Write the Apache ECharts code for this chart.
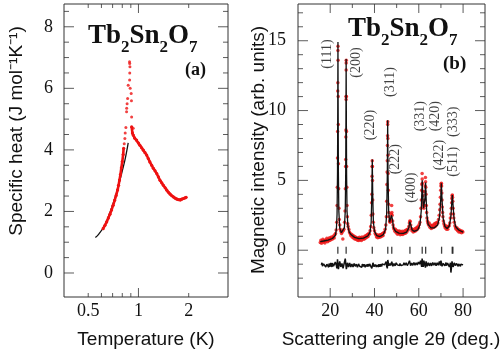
<!DOCTYPE html>
<html>
<head>
<meta charset="utf-8">
<script src="https://cdn.jsdelivr.net/npm/echarts@6/dist/echarts.min.js"></script>
<style>
  html, body { margin: 0; padding: 0; background: #fff; }
  #chart { width: 503px; height: 357px; }
</style>
</head>
<body>
<div id="chart"></div>
<script>
// ---- panel (a): specific heat ----
var fitT = [0.552, 0.58, 0.628, 0.66, 0.705, 0.74, 0.774, 0.80, 0.829, 0.85, 0.868];
var fitC = [1.15, 1.27, 1.55, 1.82, 2.26, 2.62, 3.01, 3.32, 3.66, 3.95, 4.23];

var riseT = [0.614, 0.63, 0.645, 0.66, 0.675, 0.69, 0.705, 0.72, 0.735, 0.75, 0.76, 0.77, 0.78, 0.79, 0.80, 0.81, 0.815];
var riseC = [1.44, 1.55, 1.66, 1.79, 1.91, 2.05, 2.2, 2.36, 2.52, 2.7, 2.85, 3.02, 3.2, 3.42, 3.62, 3.85, 4.05];

var peakT = [0.822, 0.829, 0.833, 0.841, 0.849, 0.85, 0.855, 0.861, 0.868, 0.885, 0.887, 0.889, 0.886, 0.884, 0.892, 0.905, 0.908, 0.91, 0.93];
var peakC = [4.2, 4.37, 4.55, 4.73, 5.24, 5.35, 5.5, 5.67, 6.1, 6.27, 6.5, 6.7, 6.81, 6.86, 6.0, 5.83, 5.6, 5.07, 4.7];

var fallT = [0.91, 0.92, 0.93, 0.95, 0.975, 1.0, 1.02, 1.045, 1.07, 1.095, 1.12, 1.145, 1.17, 1.2, 1.228, 1.257, 1.287, 1.317, 1.347, 1.378, 1.41, 1.445, 1.479, 1.513, 1.548, 1.585, 1.62, 1.66, 1.7, 1.74, 1.78, 1.82, 1.86, 1.9, 1.93];
var fallC = [4.75, 4.55, 4.48, 4.38, 4.32, 4.22, 4.15, 4.07, 3.99, 3.91, 3.83, 3.72, 3.61, 3.5, 3.4, 3.32, 3.23, 3.12, 3.01, 2.93, 2.85, 2.77, 2.69, 2.62, 2.56, 2.51, 2.47, 2.43, 2.4, 2.38, 2.37, 2.4, 2.42, 2.44, 2.46];

var tempLabels = [0.5, 1, 2];
var tempMajor = [1];
var tempMinor = [0.5, 0.6, 0.7, 0.8, 0.9, 2];
var heatLabels = [0, 2, 4, 6, 8];
var heatMinor = [0.5, 1, 1.5, 2.5, 3, 3.5, 4.5, 5, 5.5, 6.5, 7, 7.5, 8.5];

// ---- panel (b): neutron diffraction ----
var calcPoints = [
  [15.5,0.62],[17,0.66],[19,0.72],[21,0.84],[22.3,1.05],[22.8,1.5],[23.1,2.6],[23.3,5.5],[23.42,10.5],[23.5,14.9],[23.58,10.5],[23.7,5.5],[23.9,2.8],[24.3,1.6],[25,1.25],
  [25.8,1.2],[26.4,1.6],[26.8,2.8],[27.0,5.5],[27.12,10],[27.2,13.7],[27.28,10],[27.4,5.5],[27.6,2.8],[28,1.7],[28.6,1.3],[29.5,1.1],[31,0.92],[33,0.83],[35,0.86],
  [37,1.02],[38,1.3],[38.5,2.0],[38.8,4.0],[39.0,6.5],[39.2,4.0],[39.5,2.0],[40,1.35],[41,1.05],[42.5,0.98],[44,1.12],[45,1.5],[45.5,2.6],[45.8,5.5],[45.95,9.3],
  [46.1,5.5],[46.4,2.8],[46.8,2.0],[47.4,2.0],[47.7,2.5],[47.85,2.6],[48.1,2.2],[48.6,1.6],[49.5,1.35],[51,1.22],[53,1.2],[54.5,1.3],[55.5,1.6],[55.9,2.05],[56.1,2.1],
  [56.4,1.8],[57,1.45],[58,1.35],[59.5,1.45],[60.5,1.8],[61.1,2.8],[61.4,4.2],[61.55,5.0],[61.75,4.2],[62.1,3.0],[62.5,2.9],[62.8,3.7],[63.05,4.85],[63.25,4.0],[63.6,2.6],
  [64.2,1.85],[65.5,1.6],[67,1.6],[68.5,1.8],[69.4,2.4],[69.9,3.6],[70.2,4.8],[70.5,3.6],[71,2.3],[71.8,1.7],[72.8,1.55],[73.8,1.75],[74.5,2.4],[74.9,3.4],[75.15,3.95],
  [75.4,3.4],[75.9,2.3],[76.6,1.7],[78,1.45],[80,1.3]
];

var obsPoints = [
  [15.5,0.55],[15.8,0.72],[16.1,0.5],[16.4,0.63],[16.7,0.78],[17.0,0.58],[17.3,0.7],[17.6,0.52],[17.9,0.74],[18.2,0.66],[18.5,0.85],[18.8,0.6],[19.1,0.77],[19.4,0.68],
  [19.7,0.9],[20.0,0.72],[20.3,0.83],[20.6,0.95],[20.9,0.78],[21.2,0.9],[21.5,1.02],[21.8,0.88],[22.1,1.1],[22.4,1.2],[22.7,1.45],
  [22.95,2.0],[23.1,3.2],[23.2,4.5],[23.3,6.6],[23.35,8.5],[23.4,11.4],[23.45,12.0],[23.48,14.3],[23.52,14.6],[23.55,13.6],[23.6,11.0],[23.65,9.0],[23.72,6.2],[23.8,4.4],
  [23.95,3.0],[24.1,2.2],[24.3,1.8],[24.5,1.5],[24.8,1.35],[25.1,1.2],[25.4,1.3],[25.7,0.8],[25.9,1.4],[26.2,1.5],[26.5,2.0],
  [26.7,2.8],[26.85,4.4],[26.95,6.0],[27.0,6.5],[27.05,8.1],[27.1,8.6],[27.15,11.0],[27.18,10.8],[27.2,12.9],[27.22,13.4],[27.25,13.6],[27.3,11.0],[27.35,8.5],[27.4,6.0],
  [27.5,4.5],[27.6,3.2],[27.75,2.4],[27.9,1.9],[28.1,1.7],[28.4,1.5],[28.7,1.3],[29.0,1.2],[29.3,1.05],[29.6,1.15],[29.9,0.95],[30.2,1.08],[30.5,0.88],[30.8,1.0],
  [31.1,0.8],[31.4,0.95],[31.7,0.78],[32.0,0.9],[32.3,0.72],[32.6,0.86],[32.9,0.7],[33.2,0.92],[33.5,0.75],[33.8,0.88],[34.1,0.7],[34.4,0.95],[34.7,0.8],[35.0,0.9],
  [35.3,0.78],[35.6,1.0],[35.9,0.85],[36.2,1.05],[36.5,0.92],[36.8,1.12],[37.1,0.98],[37.4,1.2],[37.7,1.15],[38.0,1.4],[38.3,1.7],
  [38.55,2.5],[38.7,3.4],[38.8,4.0],[38.9,5.3],[38.95,6.0],[39.0,6.4],[39.05,6.0],[39.1,5.0],[39.2,3.6],[39.3,2.6],[39.45,2.0],
  [39.7,1.6],[40.0,1.4],[40.3,1.2],[40.6,1.1],[40.9,0.95],[41.2,1.1],[41.5,0.9],[41.8,1.05],[42.1,0.92],[42.4,1.1],[42.7,0.95],[43.0,1.12],[43.3,1.0],[43.6,1.2],
  [43.9,1.05],[44.2,1.25],[44.5,1.3],[44.8,1.5],[45.1,1.8],[45.35,2.4],
  [45.5,3.5],[45.6,4.7],[45.7,5.6],[45.78,6.4],[45.85,7.5],[45.9,8.2],[45.93,9.0],[45.97,9.2],[46.02,8.0],[46.08,6.8],[46.15,5.5],[46.25,4.3],[46.35,3.3],[46.5,2.7],
  [46.65,2.4],[46.8,2.1],[47.0,2.0],[47.2,2.2],[47.4,2.1],[47.6,2.6],[47.75,3.2],[47.85,2.7],[48.0,2.5],[48.2,2.1],[48.4,1.8],[48.6,1.6],
  [48.9,1.5],[49.2,1.35],[49.5,1.5],[49.8,1.25],[50.1,1.4],[50.4,1.15],[50.7,1.35],[51.0,1.2],[51.3,1.38],[51.6,1.1],[51.9,1.3],[52.2,1.15],[52.5,1.35],[52.8,1.12],
  [53.1,1.3],[53.4,1.2],[53.7,1.4],[54.0,1.22],[54.3,1.45],[54.6,1.3],[54.9,1.5],[55.2,1.45],[55.5,1.7],[55.75,1.95],[55.95,2.1],[56.15,2.05],[56.35,1.8],[56.6,1.55],
  [56.9,1.4],[57.2,1.5],[57.5,1.3],[57.8,1.45],[58.1,1.35],[58.4,1.55],[58.7,1.4],[59.0,1.6],[59.3,1.5],[59.6,1.7],[59.9,1.6],[60.2,1.85],[60.5,2.0],[60.8,2.4],[61.0,3.0],
  [61.15,3.6],[61.3,4.3],[61.4,4.7],[61.5,5.5],[61.55,5.1],[61.6,4.8],[61.7,4.2],[61.8,3.9],[61.95,3.4],[62.1,3.2],[62.3,3.0],[62.5,3.2],[62.65,3.6],
  [62.8,4.2],[62.9,4.6],[63.0,5.2],[63.08,4.9],[63.15,4.5],[63.25,4.0],[63.4,3.2],[63.55,2.7],[63.7,2.3],[63.9,2.1],
  [64.1,1.95],[64.4,1.8],[64.7,1.95],[65.0,1.65],[65.3,1.8],[65.6,1.55],[65.9,1.75],[66.2,1.6],[66.5,1.8],[66.8,1.65],[67.1,1.9],[67.4,1.7],[67.7,1.95],[68.0,1.8],
  [68.3,2.0],[68.6,1.95],[68.9,2.2],[69.2,2.5],[69.45,2.9],
  [69.6,3.3],[69.75,3.8],[69.9,4.3],[70.0,4.6],[70.1,4.75],[70.2,4.8],[70.3,4.6],[70.4,4.1],[70.5,3.6],[70.6,3.1],[70.75,2.7],[70.9,2.4],
  [71.1,2.1],[71.35,1.9],[71.6,1.75],[71.9,1.6],[72.2,1.75],[72.5,1.5],[72.8,1.65],[73.1,1.5],[73.4,1.7],[73.7,1.75],[74.0,1.95],[74.25,2.3],[74.5,2.6],
  [74.7,3.0],[74.85,3.4],[74.95,3.7],[75.05,3.9],[75.15,3.95],[75.25,3.8],[75.35,3.5],[75.5,3.0],[75.65,2.6],[75.8,2.3],
  [76.0,2.0],[76.3,1.75],[76.6,1.6],[76.9,1.5],[77.2,1.6],[77.5,1.4],[77.8,1.5],[78.1,1.3],[78.4,1.45],[78.7,1.3],[79.0,1.4],[79.3,1.25],[79.6,1.35],[79.9,1.3]
];

var diffPoints = [
  [16,-1.05],[16.3,-0.9],[16.5,-1.15],[16.8,-1.25],[17,-0.98],[17.3,-0.85],[17.5,-1.1],[17.8,-1.0],[18,-1.2],[18.3,-1.28],[18.5,-1.0],[18.8,-0.88],[19,-1.12],[19.3,-1.22],
  [19.5,-0.95],[19.8,-1.05],[20,-1.18],[20.3,-0.9],[20.5,-1.05],[20.8,-1.2],[21,-0.92],[21.3,-1.0],[21.5,-1.15],[21.8,-1.25],[22,-1.02],[22.3,-0.85],[22.5,-0.9],
  [22.8,-1.1],[23,-1.3],[23.3,-0.65],[23.5,-0.75],[23.7,-1.35],[24,-1.3],[24.3,-0.8],[24.5,-0.95],[24.8,-1.2],[25,-1.1],[25.3,-0.95],[25.5,-0.85],[25.8,-1.3],[26,-1.2],
  [26.3,-0.95],[26.5,-0.9],[26.8,-0.6],[27,-0.7],[27.3,-1.35],[27.5,-1.25],[27.8,-0.9],[28,-0.95],[28.3,-1.2],[28.5,-1.1],[28.8,-0.92],[29,-1.0],[29.3,-1.2],[29.5,-1.15],
  [29.8,-0.98],[30,-1.05],[30.3,-1.2],[30.5,-1.12],[30.8,-0.95],[31,-1.0],[31.3,-1.15],[31.5,-1.18],[31.8,-1.0],[32,-1.08],[32.3,-1.22],[32.5,-1.15],[32.8,-0.98],[33,-1.02],
  [33.3,-1.15],[33.5,-1.2],[33.8,-1.05],[34,-1.1],[34.3,-1.22],[34.5,-1.0],[34.8,-1.08],[35,-1.15],[35.3,-1.0],[35.5,-1.05],[35.8,-1.22],[36,-1.2],[36.3,-1.02],[36.5,-1.08],
  [36.8,-1.18],[37,-1.0],[37.3,-1.1],[37.5,-1.15],[37.8,-0.98],[38,-1.05],[38.3,-0.85],[38.5,-0.92],[38.8,-1.3],[39,-1.2],[39.3,-0.9],[39.5,-1.0],[39.8,-1.18],[40,-1.1],
  [40.3,-1.02],[40.5,-1.15],[40.8,-1.2],[41,-1.05],[41.3,-0.98],[41.5,-1.12],[41.8,-1.2],[42,-1.0],[42.3,-1.08],[42.5,-1.18],[42.8,-1.0],[43,-1.08],[43.3,-1.15],[43.5,-0.98],
  [43.8,-1.05],[44,-1.12],[44.3,-0.95],[44.5,-1.05],[44.8,-1.15],[45,-0.95],[45.3,-0.82],[45.5,-1.15],[45.8,-1.3],[46,-0.7],[46.3,-0.8],[46.5,-1.1],[46.8,-1.0],[47,-0.95],
  [47.3,-1.1],[47.5,-1.05],[47.8,-0.82],[48,-0.9],[48.3,-1.15],[48.5,-1.1],[48.8,-0.95],[49,-0.98],[49.3,-1.12],[49.5,-1.05],[49.8,-0.9],[50,-0.92],[50.3,-1.05],[50.5,-1.08],
  [50.8,-0.95],[51,-1.0],[51.3,-1.1],[51.5,-0.95],[51.8,-0.88],[52,-1.1],[52.3,-1.0],[52.5,-0.98],[52.8,-1.12],[53,-1.05],[53.3,-0.9],[53.5,-0.92],[53.8,-1.08],[54,-1.02],
  [54.3,-0.9],[54.5,-0.95],[54.8,-1.1],[55,-1.08],[55.3,-0.95],[55.5,-0.9],[55.8,-0.75],[56,-0.85],[56.3,-1.1],[56.5,-1.05],[56.8,-0.92],[57,-0.95],[57.3,-1.08],[57.5,-1.0],
  [57.8,-0.88],[58,-0.9],[58.3,-1.08],[58.5,-1.05],[58.8,-0.9],[59,-0.95],[59.3,-1.05],[59.5,-1.0],[59.8,-0.85],[60,-0.88],[60.3,-1.0],[60.5,-1.05],[60.8,-0.75],[61,-0.8],
  [61.3,-1.2],[61.5,-0.6],[61.8,-0.9],[62,-1.2],[62.3,-0.75],[62.5,-0.85],[62.8,-1.1],[63,-1.25],[63.3,-0.8],[63.5,-0.9],[63.8,-1.15],[64,-1.05],[64.3,-0.9],[64.5,-0.95],
  [64.8,-1.12],[65,-1.08],[65.3,-0.92],[65.5,-0.98],[65.8,-1.12],[66,-1.05],[66.3,-0.88],[66.5,-0.92],[66.8,-1.08],[67,-1.02],[67.3,-0.9],[67.5,-0.95],[67.8,-1.12],[68,-1.1],
  [68.3,-0.9],[68.5,-0.95],[68.8,-1.08],[69,-1.0],[69.3,-0.8],[69.5,-0.85],[69.8,-1.1],[70,-0.75],[70.3,-0.95],[70.5,-1.15],[70.8,-1.05],[71,-0.95],[71.3,-0.85],[71.5,-1.05],
  [71.8,-1.12],[72,-0.98],[72.3,-0.88],[72.5,-1.1],[72.8,-1.15],[73,-0.92],[73.3,-0.85],[73.5,-1.05],[73.8,-1.2],[74,-1.15],[74.3,-0.9],[74.5,-1.6],[74.8,-1.2],[75,-0.8],
  [75.3,-0.9],[75.5,-1.2],[75.8,-1.05],[76,-0.9],[76.3,-0.85],[76.5,-1.1],[76.8,-1.2],[77,-0.95],[77.3,-0.9],[77.5,-1.05],[77.8,-1.15],[78,-0.98],[78.3,-0.92],[78.5,-1.08],
  [78.8,-1.15],[79,-1.0],[79.3,-0.95],[79.5,-1.1],[79.8,-1.12],[80,-1.05]
];

var braggAngles = [23.45, 27.2, 39.0, 46.0, 47.8, 56.0, 61.55, 63.1, 70.3, 75.1, 75.4];

// hkl annotation: text, angle, intensity of label centre
var hklLabels = [
  ['(111)', 18.5, 14.05], ['(200)', 32.0, 13.44], ['(220)', 38.2, 8.96], ['(311)', 47.0, 12.04],
  ['(222)', 49.6, 6.52], ['(400)', 56.8, 4.48], ['(331)', 60.5, 9.6], ['(420)', 67.25, 9.6],
  ['(333)', 75.6, 9.2], ['(422)', 69.5, 6.81], ['(511)', 75.6, 6.33]
];

var angleLabels = [20, 40, 60, 80];
var angleMinor = [30, 50, 70];
var intLabels = [0, 5, 10, 15];
var intMinor = [-2, -1, 1, 2, 3, 4, 6, 7, 8, 9, 11, 12, 13, 14, 16, 17];

var frame = '#333';
var red = '#ee1111';
var serif = '"Liberation Serif", "Times New Roman", serif';
var sans = '"Liberation Sans", Arial, sans-serif';

function lg(arr) { return arr.map(function (v) { return Math.log10(v); }); }
function pairs(xs, ys) { return xs.map(function (x, i) { return [Math.log10(x), ys[i]]; }); }

var aX = [Math.log10(0.358), Math.log10(3.44)], aY = [-0.78, 8.74];
var bX = [5.46, 89.9], bY = [-3.35, 17.63];

function mainAxis(grid, pos, range, labels, fmt, margin) {
  return {
    type: 'value', gridIndex: grid, position: pos, min: range[0], max: range[1],
    axisLine: { show: false, onZero: false },
    axisTick: { show: false },
    splitLine: { show: false },
    axisLabel: { show: true, customValues: labels, formatter: fmt, margin: margin,
      fontFamily: serif, fontSize: 18, color: '#111' }
  };
}

// inward frame ticks as thin rect symbols sitting on one edge of the plot
function tickSeries(axisIdx, side, values, len, xr, yr) {
  var horiz = side === 'bottom' || side === 'top';
  var data = values.map(function (v) {
    if (horiz) return [v, side === 'bottom' ? yr[0] : yr[1]];
    return [side === 'left' ? xr[0] : xr[1], v];
  });
  var offset = side === 'bottom' ? [0, -len / 2] : side === 'top' ? [0, len / 2]
    : side === 'left' ? [len / 2, 0] : [-len / 2, 0];
  return {
    type: 'scatter', xAxisIndex: axisIdx, yAxisIndex: axisIdx, clip: false, silent: true, z: 5,
    symbol: 'rect', symbolSize: horiz ? [1, len] : [len, 1], symbolOffset: offset,
    data: data, itemStyle: { color: frame }
  };
}

function frameTicks(axisIdx, xMajor, xMinor, yMajor, yMinor, xr, yr) {
  var out = [];
  ['bottom', 'top'].forEach(function (s) {
    out.push(tickSeries(axisIdx, s, xMajor, 9, xr, yr));
    out.push(tickSeries(axisIdx, s, xMinor, 4, xr, yr));
  });
  ['left', 'right'].forEach(function (s) {
    out.push(tickSeries(axisIdx, s, yMajor, 10, xr, yr));
    out.push(tickSeries(axisIdx, s, yMinor, 5, xr, yr));
  });
  return out;
}

var chart = echarts.init(document.getElementById('chart'));

var rich = {
  m: { fontFamily: serif, fontWeight: 'bold', fontSize: 27, lineHeight: 40, verticalAlign: 'middle', color: '#111' },
  s: { fontFamily: serif, fontWeight: 'bold', fontSize: 17, lineHeight: 17, verticalAlign: 'bottom', color: '#111' }
};
var formula = '{m|Tb}{s|2}{m|Sn}{s|2}{m|O}{s|7}';

var dataSeries = [
  // panel (a)
  { type: 'line', xAxisIndex: 0, yAxisIndex: 0, data: pairs(fitT, fitC), smooth: true, showSymbol: false,
    lineStyle: { color: '#111', width: 1.3 } },
  { type: 'line', xAxisIndex: 0, yAxisIndex: 0, data: pairs(riseT, riseC), showSymbol: true, symbol: 'circle', symbolSize: 3.2,
    itemStyle: { color: red }, lineStyle: { color: red, width: 2.6 } },
  { type: 'line', xAxisIndex: 0, yAxisIndex: 0, data: pairs(fallT, fallC), showSymbol: true, symbol: 'circle', symbolSize: 3.2,
    itemStyle: { color: red }, lineStyle: { color: red, width: 2.6 } },
  { type: 'scatter', xAxisIndex: 0, yAxisIndex: 0, data: pairs(peakT, peakC), symbolSize: 3,
    itemStyle: { color: red } },
  // panel (b)
  { type: 'line', xAxisIndex: 1, yAxisIndex: 1, data: calcPoints, showSymbol: false,
    lineStyle: { color: '#111', width: 1.3 } },
  { type: 'scatter', xAxisIndex: 1, yAxisIndex: 1, data: obsPoints, symbolSize: 3.5,
    itemStyle: { color: red } },
  { type: 'line', xAxisIndex: 1, yAxisIndex: 1, data: diffPoints, showSymbol: false,
    lineStyle: { color: '#111', width: 1.5 } },
  { type: 'scatter', xAxisIndex: 1, yAxisIndex: 1, symbol: 'rect', symbolSize: [1.3, 7],
    data: braggAngles.map(function (a) { return [a, 0]; }), itemStyle: { color: '#111' } },
  { type: 'scatter', xAxisIndex: 1, yAxisIndex: 1, symbolSize: 0,
    data: hklLabels.map(function (h) { return { name: h[0], value: [h[1], h[2]] }; }),
    label: { show: true, position: 'inside', rotate: 90, formatter: '{b}',
      fontFamily: serif, fontSize: 14, color: '#111' } }
];

var option = {
  backgroundColor: '#fff',
  animation: false,
  title: [
    { text: formula, left: 88, top: 16, padding: 0, textStyle: { rich: rich } },
    { text: formula, left: 348, top: 9, padding: 0, textStyle: { rich: rich } },
    { text: '(a)', left: 185, top: 61, padding: 0, textStyle: { fontFamily: serif, fontWeight: 'bold', fontSize: 18, color: '#111' } },
    { text: '(b)', left: 443, top: 55, padding: 0, textStyle: { fontFamily: serif, fontWeight: 'bold', fontSize: 19, color: '#111' } }
  ],
  grid: [
    { left: 64, top: 4, width: 164, height: 293, show: true, borderColor: frame, borderWidth: 1 },
    { left: 298, top: 4, width: 187, height: 293, show: true, borderColor: frame, borderWidth: 1 }
  ],
  xAxis: [
    mainAxis(0, 'bottom', aX, lg(tempLabels), function (v) { return String(Math.round(Math.pow(10, v) * 10) / 10); }, 5),
    mainAxis(1, 'bottom', bX, angleLabels, null, 5)
  ],
  yAxis: [
    mainAxis(0, 'left', aY, heatLabels, null, 11),
    mainAxis(1, 'left', bY, intLabels, null, 12)
  ],
  graphic: [
    { type: 'text', x: 17, y: 131, rotation: Math.PI / 2,
      style: { text: 'Specific heat (J mol\u207B\u00B9K\u207B\u00B9)', font: '19px ' + sans, fill: '#111', textAlign: 'center', textVerticalAlign: 'middle' } },
    { type: 'text', x: 146, y: 340,
      style: { text: 'Temperature (K)', font: '19px ' + sans, fill: '#111', textAlign: 'center', textVerticalAlign: 'middle' } },
    { type: 'text', x: 259, y: 150, rotation: Math.PI / 2,
      style: { text: 'Magnetic intensity (arb. units)', font: '19px ' + sans, fill: '#111', textAlign: 'center', textVerticalAlign: 'middle' } },
    { type: 'text', x: 391, y: 340,
      style: { text: 'Scattering angle 2\u03B8 (deg.)', font: '19px ' + sans, fill: '#111', textAlign: 'center', textVerticalAlign: 'middle' } }
  ],
  series: []
    .concat(frameTicks(0, lg(tempMajor), lg(tempMinor), heatLabels, heatMinor, aX, aY))
    .concat(frameTicks(1, angleLabels, angleMinor, intLabels, intMinor, bX, bY))
    .concat(dataSeries)
};

chart.setOption(option);
</script>
</body>
</html>
